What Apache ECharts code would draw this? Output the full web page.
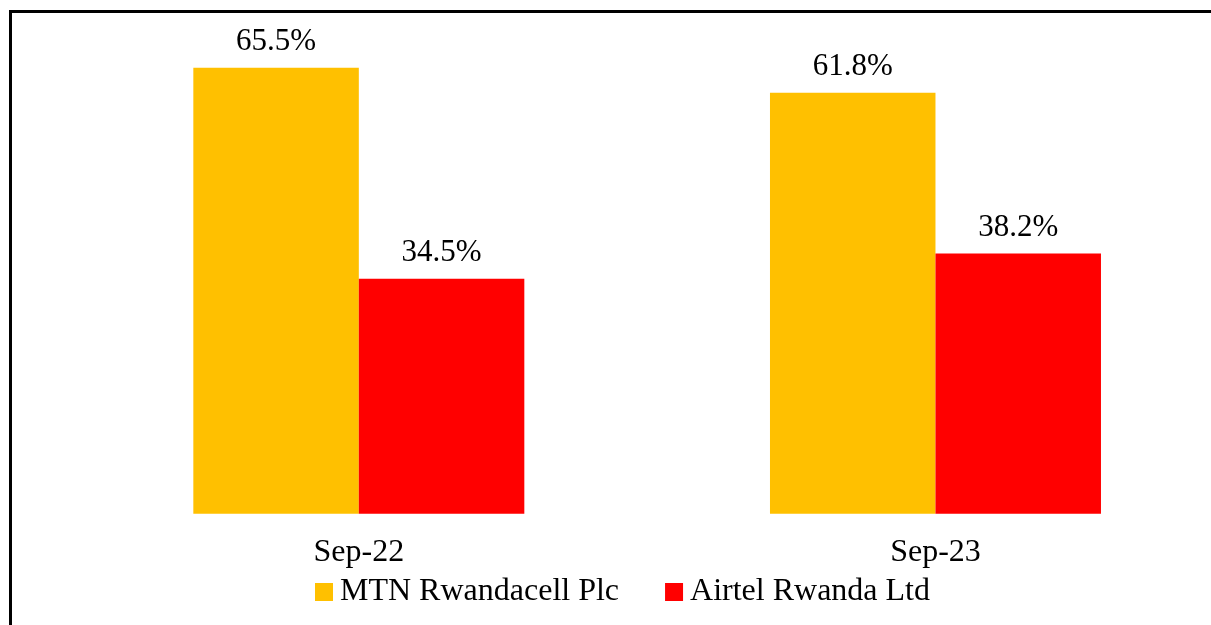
<!DOCTYPE html>
<html>
<head>
<meta charset="utf-8">
<script src="https://cdn.jsdelivr.net/npm/echarts@6/dist/echarts.min.js"></script>
<style>
  html, body { margin: 0; padding: 0; background: #fff; overflow: hidden; }
  .frame {
    position: absolute; left: 9px; top: 10px; width: 1210px; height: 620px;
    border-top: 3px solid #000; border-left: 3px solid #000;
  }
  /* chart is a bit wider than the window: the last category runs past the right edge */
  #chart { position: absolute; left: 0; top: 0; width: 1240px; height: 625px; }
</style>
</head>
<body>
<div class="frame"></div>
<div id="chart"></div>
<script>
// periods on the x axis
const periods = ["Sep-22", "Sep-23"];
// market share (%)
const mtnShare = [65.5, 61.8];
const airtelShare = [34.5, 38.2];
const seriesNames = ["MTN Rwandacell Plc", "Airtel Rwanda Ltd"];

const serif = "'Liberation Serif', 'Times New Roman', serif";

const chart = echarts.init(document.getElementById("chart"));

const labelStyle = {
  show: true,
  position: "top",
  distance: 10,
  fontFamily: serif,
  fontSize: 31,
  color: "#000",
  formatter: (p) => p.value.toFixed(1) + "%",
};

const option = {
  animation: false,
  grid: { left: 70.5, right: 16.2, top: 37, bottom: 111.3 },
  legend: {
    left: 310,
    top: 571,
    itemWidth: 18,
    itemHeight: 18,
    itemGap: 46,
    icon: "rect",
    textStyle: {
      fontFamily: serif,
      fontSize: 32,
      color: "#000",
      lineHeight: 32,
      padding: [0, 0, 0, 2],
    },
    data: seriesNames,
  },
  xAxis: {
    type: "category",
    data: periods,
    axisLine: { show: false },
    axisTick: { show: false },
    axisLabel: { fontFamily: serif, fontSize: 32, color: "#000", margin: 23 },
  },
  yAxis: {
    type: "value",
    min: 0,
    max: 70,
    show: false,
    splitLine: { show: false },
  },
  series: [
    {
      name: seriesNames[0],
      type: "bar",
      data: mtnShare,
      barGap: "0%",
      barCategoryGap: "42.6%",
      itemStyle: { color: "#FFC000" },
      label: labelStyle,
    },
    {
      name: seriesNames[1],
      type: "bar",
      data: airtelShare,
      barGap: "0%",
      barCategoryGap: "42.6%",
      itemStyle: { color: "#FF0000" },
      label: labelStyle,
    },
  ],
};

chart.setOption(option);
</script>
</body>
</html>
